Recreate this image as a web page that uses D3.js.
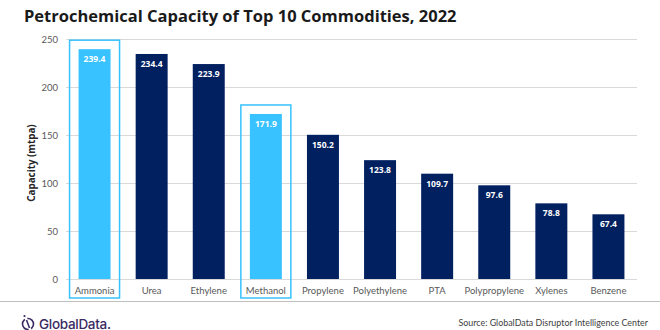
<!DOCTYPE html>
<html>
<head>
<meta charset="utf-8">
<script src="https://cdn.jsdelivr.net/npm/d3@7"></script>
<style>
  body { margin: 0; background: #fff; }
  svg { display: block; }
</style>
</head>
<body>
<div id="chart"></div>
<script>
// Capacity by commodity, million tonnes per annum
const commodities = ["Ammonia", "Urea", "Ethylene", "Methanol", "Propylene", "Polyethylene", "PTA", "Polypropylene", "Xylenes", "Benzene"];
const capacity = [239.4, 234.4, 223.9, 171.9, 150.2, 123.8, 109.7, 97.6, 78.8, 67.4];
const highlighted = ["Ammonia", "Methanol"];
const yTicks = [0, 50, 100, 150, 200, 250];

const width = 660;
const height = 330;
const margin = { top: 39, right: 23, bottom: 51, left: 66 };
const innerW = width - margin.left - margin.right;
const innerH = height - margin.top - margin.bottom;

const navy = "#002060";
const lightBlue = "#38c2ff";

const data = commodities.map((name, i) => ({ name, value: capacity[i] }));

const svg = d3.select("#chart")
    .append("svg")
    .attr("width", width)
    .attr("height", height);

// Title
svg.append("text")
    .attr("x", 24)
    .attr("y", 22)
    .attr("font-family", "'Open Sans', sans-serif")
    .attr("font-weight", "bold")
    .attr("font-size", 16.5)
    .attr("fill", "#1a1a1a")
    .text("Petrochemical Capacity of Top 10 Commodities, 2022");

const g = svg.append("g")
    .attr("transform", `translate(${margin.left},${margin.top})`);

const x = d3.scaleBand()
    .domain(commodities)
    .range([0, innerW])
    .paddingInner(0.44)
    .paddingOuter(0.22);

const y = d3.scaleLinear()
    .domain([0, 250])
    .range([innerH, 0]);

// Gridlines
g.append("g")
    .selectAll("line")
    .data(yTicks)
    .join("line")
    .attr("x1", 0)
    .attr("x2", innerW)
    .attr("y1", d => y(d) + 0.5)
    .attr("y2", d => y(d) + 0.5)
    .attr("stroke", "#d9d9d9")
    .attr("stroke-width", 1);

// Y axis labels
const yAxis = g.append("g")
    .attr("transform", "translate(-8,0)")
    .call(d3.axisLeft(y).tickValues(yTicks).tickSize(0).tickPadding(0));
yAxis.select(".domain").remove();
yAxis.selectAll("text")
    .attr("font-family", "Lato, sans-serif")
    .attr("font-size", 9.5)
    .attr("fill", "#595959");

// Y axis title
svg.append("text")
    .attr("transform", `translate(35,${margin.top + innerH / 2 + 4}) rotate(-90)`)
    .attr("text-anchor", "middle")
    .attr("font-family", "'Open Sans', sans-serif")
    .attr("font-weight", "bold")
    .attr("font-size", 9.8)
    .attr("fill", "#262626")
    .text("Capacity (mtpa)");

// Outline boxes around highlighted commodities
const boxW = 50;
g.append("g")
    .selectAll("rect")
    .data(data.filter(d => highlighted.includes(d.name)))
    .join("rect")
    .attr("x", d => x(d.name) + x.bandwidth() / 2 - boxW / 2)
    .attr("y", d => y(d.value) - 9)
    .attr("width", boxW)
    .attr("height", d => innerH - y(d.value) + 28)
    .attr("fill", "none")
    .attr("stroke", lightBlue)
    .attr("stroke-width", 1.5);

// Bars
g.append("g")
    .selectAll("rect")
    .data(data)
    .join("rect")
    .attr("x", d => x(d.name))
    .attr("y", d => y(d.value))
    .attr("width", x.bandwidth())
    .attr("height", d => innerH - y(d.value))
    .attr("fill", d => highlighted.includes(d.name) ? lightBlue : navy);

// Value labels inside bars
g.append("g")
    .selectAll("text")
    .data(data)
    .join("text")
    .attr("x", d => x(d.name) + x.bandwidth() / 2)
    .attr("y", d => y(d.value) + 13)
    .attr("text-anchor", "middle")
    .attr("font-family", "'Open Sans', sans-serif")
    .attr("font-weight", "bold")
    .attr("font-size", 8.5)
    .attr("fill", "#fff")
    .text(d => d.value.toFixed(1));

// Category labels
const xAxis = g.append("g")
    .attr("transform", `translate(0,${innerH})`)
    .call(d3.axisBottom(x).tickSize(0).tickPadding(8));
xAxis.select(".domain").remove();
xAxis.selectAll("text")
    .attr("font-family", "Lato, sans-serif")
    .attr("font-size", 9.5)
    .attr("fill", "#595959");

// Footer rule
svg.append("line")
    .attr("x1", 0)
    .attr("x2", width)
    .attr("y1", 301.5)
    .attr("y2", 301.5)
    .attr("stroke", "#bfbfbf")
    .attr("stroke-width", 1);

// Logo
const logo = svg.append("g").attr("transform", "translate(28,324)");
logo.append("circle")
    .attr("r", 5.5)
    .attr("fill", "none")
    .attr("stroke", "#3b2a63")
    .attr("stroke-width", 1.6);
logo.append("line")
    .attr("x1", -3).attr("y1", -8)
    .attr("x2", 3).attr("y2", 8)
    .attr("stroke", "#fff")
    .attr("stroke-width", 2.5);
logo.append("line")
    .attr("x1", -1.5).attr("y1", -4)
    .attr("x2", 1.5).attr("y2", 4)
    .attr("stroke", "#3b2a63")
    .attr("stroke-width", 1.6);
logo.append("circle")
    .attr("cx", -3.5).attr("cy", -8)
    .attr("r", 1.1)
    .attr("fill", "#3b2a63");
svg.append("text")
    .attr("x", 39)
    .attr("y", 328.5)
    .attr("font-family", "Inter, sans-serif")
    .attr("font-weight", 500)
    .attr("font-size", 13.5)
    .attr("letter-spacing", -0.3)
    .attr("fill", "#3b2a63")
    .text("GlobalData.");

// Source note
svg.append("text")
    .attr("x", 648)
    .attr("y", 326)
    .attr("text-anchor", "end")
    .attr("font-family", "Lato, sans-serif")
    .attr("font-size", 8.9)
    .attr("fill", "#404040")
    .text("Source: GlobalData Disruptor Intelligence Center");
</script>
</body>
</html>
